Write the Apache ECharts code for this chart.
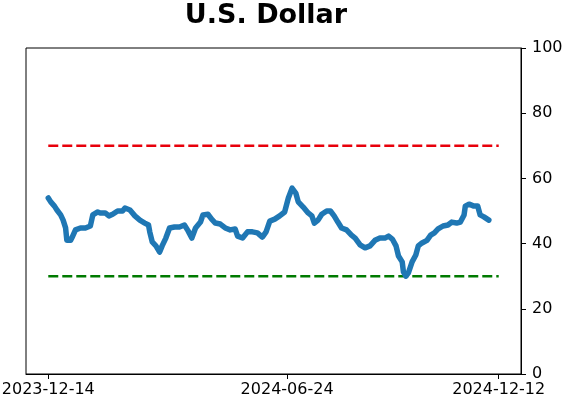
<!DOCTYPE html>
<html lang="en">
<head>
    <meta charset="UTF-8">
    <title>U.S. Dollar</title>
    <script type="text/javascript" src="https://cdn.jsdelivr.net/npm/echarts@6/dist/echarts.min.js"></script>
    <style>
        html, body { margin: 0; padding: 0; background: #fff; }
        #chart { width: 563px; height: 402px; }
    </style>
</head>
<body>
<div id="chart"></div>
<script>
    var dates = [
        '2023-12-14', '2023-12-16', '2023-12-19', '2023-12-21', '2023-12-24', '2023-12-26', '2023-12-28', '2023-12-29',
        '2024-01-01', '2024-01-02', '2024-01-05', '2024-01-09', '2024-01-13', '2024-01-17', '2024-01-19', '2024-01-23',
        '2024-01-25', '2024-01-29', '2024-02-01', '2024-02-04', '2024-02-08', '2024-02-12', '2024-02-14', '2024-02-18',
        '2024-02-22', '2024-02-26', '2024-03-01', '2024-03-04', '2024-03-05', '2024-03-07', '2024-03-10', '2024-03-13',
        '2024-03-15', '2024-03-18', '2024-03-21', '2024-03-25', '2024-03-29', '2024-04-02', '2024-04-05', '2024-04-08',
        '2024-04-11', '2024-04-15', '2024-04-17', '2024-04-21', '2024-04-24', '2024-04-27', '2024-05-01', '2024-05-05',
        '2024-05-09', '2024-05-13', '2024-05-15', '2024-05-19', '2024-05-23', '2024-05-27', '2024-05-31', '2024-06-04',
        '2024-06-07', '2024-06-10', '2024-06-14', '2024-06-18', '2024-06-22', '2024-06-25', '2024-06-28', '2024-07-01',
        '2024-07-03', '2024-07-07', '2024-07-11', '2024-07-14', '2024-07-16', '2024-07-19', '2024-07-22', '2024-07-26',
        '2024-07-29', '2024-08-01', '2024-08-04', '2024-08-07', '2024-08-11', '2024-08-15', '2024-08-18', '2024-08-22',
        '2024-08-26', '2024-08-30', '2024-09-03', '2024-09-07', '2024-09-11', '2024-09-14', '2024-09-17', '2024-09-20',
        '2024-09-22', '2024-09-25', '2024-09-26', '2024-09-28', '2024-09-30', '2024-10-03', '2024-10-06', '2024-10-08',
        '2024-10-11', '2024-10-15', '2024-10-18', '2024-10-21', '2024-10-24', '2024-10-28', '2024-11-01', '2024-11-04',
        '2024-11-08', '2024-11-11', '2024-11-14', '2024-11-15', '2024-11-18', '2024-11-22', '2024-11-25', '2024-11-27',
        '2024-11-30', '2024-12-04'
    ];
    var values = [
        54.0, 52.8, 51.5, 50.3, 48.8, 47.2, 44.8, 41.0,
        41.0, 41.7, 44.2, 44.8, 44.8, 45.4, 48.8, 49.7,
        49.4, 49.4, 48.5, 49.0, 50.0, 50.0, 50.9, 50.3,
        48.5, 47.2, 46.3, 45.7, 43.6, 40.5, 39.3, 37.4,
        39.3, 41.7, 44.8, 45.1, 45.1, 45.7, 43.9, 41.7,
        44.8, 46.6, 48.8, 49.0, 47.5, 46.3, 46.0, 44.8,
        44.2, 44.5, 42.3, 41.7, 43.6, 43.6, 43.3, 42.0,
        43.6, 46.9, 47.5, 48.5, 49.7, 54.0, 57.0, 55.5,
        52.8, 51.2, 49.4, 48.5, 46.3, 47.2, 49.0, 50.0,
        50.0, 48.5, 46.6, 44.8, 44.2, 42.6, 41.7, 39.6,
        38.7, 39.3, 41.0, 41.7, 41.7, 42.3, 41.4, 39.3,
        36.2, 34.4, 31.3, 30.0, 31.0, 34.4, 36.5, 39.3,
        40.2, 41.0, 42.6, 43.3, 44.5, 45.4, 45.7, 46.6,
        46.3, 46.6, 48.8, 51.5, 52.1, 51.5, 51.5, 48.8,
        48.2, 47.2
    ];
    var tickDates = ['2023-12-14', '2024-06-24', '2024-12-12'];
    var upperLevel = 70;
    var lowerLevel = 30;
    var levelSpan = ['2023-12-14', '2024-12-12'];
    var xRange = ['2023-11-26', '2024-12-30'];

    function toTime(d) { return Date.UTC(+d.slice(0, 4), +d.slice(5, 7) - 1, +d.slice(8, 10)); }
    function pad(n) { return n < 10 ? '0' + n : '' + n; }
    function fmtDate(t) {
        var d = new Date(t);
        return d.getUTCFullYear() + '-' + pad(d.getUTCMonth() + 1) + '-' + pad(d.getUTCDate());
    }

    var seriesData = dates.map(function (d, i) { return [toTime(d), values[i]]; });
    var upperData = levelSpan.map(function (d) { return [toTime(d), upperLevel]; });
    var lowerData = levelSpan.map(function (d) { return [toTime(d), lowerLevel]; });
    var tickTimes = tickDates.map(toTime);

    var mychart = echarts.init(document.getElementById('chart'), null, { renderer: 'canvas' });
    var option = {
        animation: false,
        backgroundColor: '#ffffff',
        title: {
            text: 'U.S. Dollar',
            left: 261,
            textAlign: 'center',
            top: -3,
            textStyle: {
                fontFamily: 'DejaVu Sans',
                fontWeight: 'bold',
                fontSize: 27,
                color: '#000'
            }
        },
        grid: {
            left: 26,
            right: 42,
            top: 48,
            bottom: 28,
            outerBoundsMode: 'none',
            containLabel: false,
            show: true,
            borderColor: '#000',
            borderWidth: 1
        },
        xAxis: {
            type: 'value',
            min: toTime(xRange[0]),
            max: toTime(xRange[1]),
            splitLine: { show: false },
            axisLine: { show: true, onZero: false, lineStyle: { color: '#000', width: 1 } },
            axisTick: {
                show: true,
                length: 5,
                lineStyle: { color: '#000' },
                customValues: tickTimes
            },
            axisLabel: {
                customValues: tickTimes,
                fontFamily: 'DejaVu Sans',
                fontSize: 16,
                color: '#000',
                margin: 8,
                formatter: function (v) { return fmtDate(v); }
            }
        },
        yAxis: {
            type: 'value',
            position: 'right',
            min: 0,
            max: 100,
            interval: 20,
            splitLine: { show: false },
            axisLine: { show: true, lineStyle: { color: '#000', width: 1 } },
            axisTick: { show: true, length: 5, lineStyle: { color: '#000' } },
            axisLabel: {
                fontFamily: 'DejaVu Sans',
                fontSize: 16,
                color: '#000',
                margin: 11
            }
        },
        series: [
            {
                name: 'upper',
                type: 'line',
                data: upperData,
                symbol: 'none',
                lineStyle: { color: '#e8000b', width: 2.5, type: [10, 4] },
                z: 2
            },
            {
                name: 'lower',
                type: 'line',
                data: lowerData,
                symbol: 'none',
                lineStyle: { color: '#007a00', width: 2.5, type: [10, 4] },
                z: 2
            },
            {
                name: 'USD',
                type: 'line',
                data: seriesData,
                symbol: 'none',
                lineStyle: { color: '#1f77b4', width: 5.5, join: 'round', cap: 'round' },
                z: 3
            }
        ]
    };
    mychart.setOption(option);
</script>
</body>
</html>
